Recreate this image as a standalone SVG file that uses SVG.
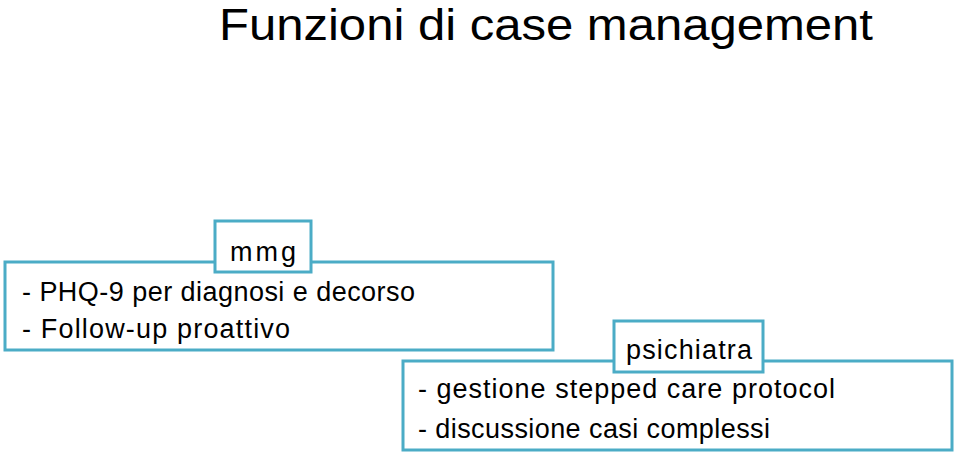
<svg xmlns="http://www.w3.org/2000/svg" width="959" height="456" viewBox="0 0 959 456">
<style>
.box{fill:#fff;stroke:#4BACC6;stroke-width:3}
.t{font-family:"Liberation Sans",Arial,sans-serif;font-size:27px;fill:#000}
.title{font-family:"Liberation Sans",Arial,sans-serif;font-size:45px;fill:#000}
</style>
<rect width="959" height="456" fill="#fff"/>
<text class="title" x="219" y="40" textLength="654" lengthAdjust="spacingAndGlyphs">Funzioni di case management</text>
<g id="mmg">
<rect class="box" x="5" y="262" width="548" height="88"/>
<rect class="box" x="215" y="221" width="96" height="51"/>
<text class="t" x="230" y="261" textLength="66" lengthAdjust="spacing">mmg</text>
<text class="t" x="22" y="301" textLength="393" lengthAdjust="spacing">- PHQ-9 per diagnosi e decorso</text>
<text class="t" x="22" y="338" textLength="268" lengthAdjust="spacing">- Follow-up proattivo</text>
</g>
<g id="psichiatra">
<rect class="box" x="403" y="361" width="549" height="89"/>
<rect class="box" x="614" y="321" width="149" height="51"/>
<text class="t" x="626" y="359" textLength="126" lengthAdjust="spacing">psichiatra</text>
<text class="t" x="418" y="398" textLength="417" lengthAdjust="spacing">- gestione stepped care protocol</text>
<text class="t" x="418" y="438" textLength="352" lengthAdjust="spacing">- discussione casi complessi</text>
</g>
<g id="connectors"/>
</svg>
